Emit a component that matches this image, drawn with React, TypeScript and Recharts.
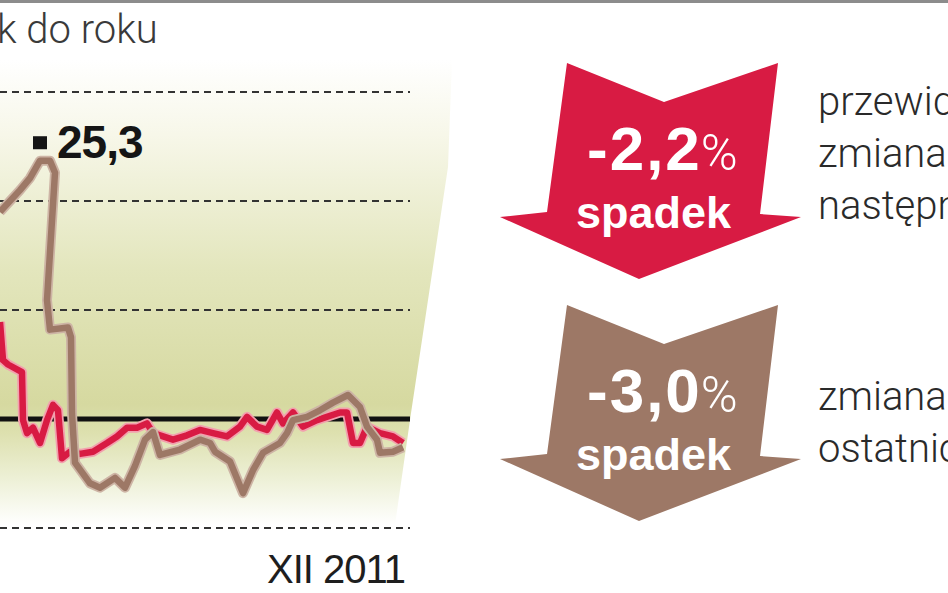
import React from "react";
import { LineChart, Line, XAxis, YAxis, ReferenceLine, ReferenceDot } from "recharts";

// trading-day index (0..82) and value
const redDays = [0, 0.6, 1.6, 4.4, 4.6, 5.4, 6.6, 8, 9.4, 10.6, 11.6, 12.4, 14, 16, 18.6, 21.4, 23.4, 25.4, 27.4, 29.4, 30.6, 34.6, 37.4, 40, 42.6, 45.4, 48, 49.4, 51.4, 53.4, 55.4, 56.6, 58.6, 60.6, 63.4, 68, 69.4, 70.6, 72, 73.4, 76, 78.6, 80.6];
const redValues = [8.9, 5.4, 5.0, 4.3, -0.1, -1.3, -0.8, -2.2, -0.1, 1.3, 0.8, -3.6, -3.0, -3.2, -3.0, -2.2, -1.6, -0.8, -0.8, -0.4, -1.3, -1.9, -1.5, -1.0, -1.3, -1.6, -0.7, 0.2, -0.7, -1.0, 0.6, -0.4, 0.6, -0.7, -0.1, 0.6, 0.6, -2.2, -2.2, -0.7, -1.3, -1.6, -2.2];

const brownDays = [0, 4, 6, 8, 10, 11, 9.4, 10, 13.6, 14.2, 14.4, 15, 18, 20, 23, 25, 27, 29, 30.6, 32, 36, 40, 42, 43, 46, 48.6, 50.6, 52.6, 56, 57.4, 58.6, 61.4, 64, 66.6, 69.6, 72, 73.4, 75.4, 76, 78.6, 80.6];
const brownValues = [19.0, 21.0, 22.1, 23.7, 23.7, 22.6, 10.9, 8.2, 8.4, 7.5, 0.5, -4.0, -5.9, -6.3, -5.4, -6.3, -4.3, -1.9, -1.2, -3.3, -2.8, -1.9, -2.2, -3.0, -3.9, -6.8, -4.7, -3.1, -2.2, -1.3, -0.1, 0.2, 0.8, 1.5, 2.2, 1.1, -0.7, -1.9, -3.1, -3.0, -2.6];

const gridLevels = [30, 20, 10, -10];
const peakDay = 8;
const peakValue = 25.3;
const peakLabel = "25,3";
const titleText = "k do roku";
const periodLabel = "XII 2011";

const arrowValues = ["-2,2", "-3,0"];
const arrowWords = ["spadek", "spadek"];
const arrowNotes = [
  ["przewidywana", "zmiana w", "następnym roku"],
  ["zmiana w", "ostatnich 12 mies."],
];

const RED = "#d81b43";
const BROWN = "#9d7866";

const redData = redDays.map((d, i) => ({ d, v: redValues[i] }));
const brownData = brownDays.map((d, i) => ({ d, v: brownValues[i] }));

const PeakMarker = (props: any) => {
  const { cx, cy } = props;
  return (
    <g>
      <rect x={cx - 7} y={cy - 7} width={14} height={13} fill="#151515" />
      <text
        x={cx + 17}
        y={cy + 15}
        fontFamily="Liberation Sans, Arial, sans-serif"
        fontWeight="bold"
        fontSize={46}
        fill="#151515"
        letterSpacing={-1}
      >
        {peakLabel}
      </text>
    </g>
  );
};

function Arrow({ top, color, value, word, notes }: { top: number; color: string; value: string; word: string; notes: string[] }) {
  const pts = [
    [567, 0], [664, 39], [778, 0], [760, 151], [801, 154], [639, 216], [500, 154], [547, 149],
  ].map(([x, y]) => `${x},${y + top}`).join(" ");
  return (
    <g>
      <polygon points={pts} fill={color} />
      <text x={587} y={top + 107} fill="#fff" fontFamily="Liberation Sans, Arial, sans-serif">
        <tspan fontWeight="bold" fontSize={62} letterSpacing={2}>{value}</tspan>
        <tspan fontFamily="Roboto, sans-serif" fontWeight={300} fontSize={50} dx={-1}>%</tspan>
      </text>
      <text
        x={576}
        y={top + 165}
        fill="#fff"
        fontFamily="Liberation Sans, Arial, sans-serif"
        fontWeight="bold"
        fontSize={45}
      >
        {word}
      </text>
      {notes.map((n, i) => (
        <text
          key={i}
          x={818}
          y={top + (notes.length === 3 ? 52 : 105) + i * 52}
          fill="#2a2a2a"
          fontFamily="Roboto, sans-serif"
          fontWeight={300}
          fontSize={40}
        >
          {n}
        </text>
      ))}
    </g>
  );
}

export default function App() {
  return (
    <div style={{ position: "absolute", left: 0, top: 0, width: 948, height: 593, overflow: "hidden", background: "#fff" }}>
      <svg width={948} height={593} style={{ position: "absolute", left: 0, top: 0 }}>
        <defs>
          <linearGradient id="bg" x1="0" y1="0" x2="0" y2="1" gradientUnits="objectBoundingBox">
            <stop offset="0" stopColor="#ffffff" />
            <stop offset="0.16" stopColor="#f7f7e9" />
            <stop offset="0.45" stopColor="#e3e6bd" />
            <stop offset="0.74" stopColor="#d6d9a0" />
            <stop offset="0.8" stopColor="#dde0ae" />
            <stop offset="0.9" stopColor="#edf0d6" />
            <stop offset="1" stopColor="#ffffff" />
          </linearGradient>
        </defs>
        <polygon points="0,60 452,60 448,167 422,340 411,413 395,525 0,525" fill="url(#bg)" />
        <rect x={0} y={0} width={948} height={3} fill="#8c8c8c" />
        <text x={-3} y={43} fontFamily="Roboto, sans-serif" fontWeight={300} fontSize={40} fill="#3a3a3a">
          {titleText}
        </text>
        <text x={405} y={583} textAnchor="end" fontFamily="Liberation Sans, Arial, sans-serif" fontSize={40} fill="#1e1e1e" letterSpacing={-1}>
          {periodLabel}
        </text>
      </svg>

      <LineChart
        width={948}
        height={593}
        margin={{ top: 92, right: 538, bottom: 65, left: 0 }}
        style={{ position: "absolute", left: 0, top: 0 }}
      >
        <XAxis type="number" dataKey="d" domain={[0, 82]} hide allowDataOverflow />
        <YAxis type="number" domain={[-10, 30]} hide allowDataOverflow />
        {gridLevels.map((g) => (
          <ReferenceLine key={g} y={g} stroke="#333" strokeWidth={2} strokeDasharray="7 5" />
        ))}
        <ReferenceLine y={0} stroke="#111" strokeWidth={5} />
        <Line data={redData} dataKey="v" type="linear" stroke="#f2a0ae" strokeWidth={10} dot={false} strokeLinejoin="round" isAnimationActive={false} />
        <Line data={redData} dataKey="v" type="linear" stroke={RED} strokeWidth={6.5} dot={false} strokeLinejoin="round" isAnimationActive={false} />
        <Line data={brownData} dataKey="v" type="linear" stroke="#cdb4a5" strokeWidth={10} dot={false} strokeLinejoin="round" isAnimationActive={false} />
        <Line data={brownData} dataKey="v" type="linear" stroke={BROWN} strokeWidth={6.5} dot={false} strokeLinejoin="round" isAnimationActive={false} />
        <ReferenceDot x={peakDay} y={peakValue} shape={PeakMarker} ifOverflow="visible" />
      </LineChart>

      <svg width={948} height={593} style={{ position: "absolute", left: 0, top: 0 }}>
        <Arrow top={63} color={RED} value={arrowValues[0]} word={arrowWords[0]} notes={arrowNotes[0]} />
        <Arrow top={305} color={BROWN} value={arrowValues[1]} word={arrowWords[1]} notes={arrowNotes[1]} />
      </svg>
    </div>
  );
}
